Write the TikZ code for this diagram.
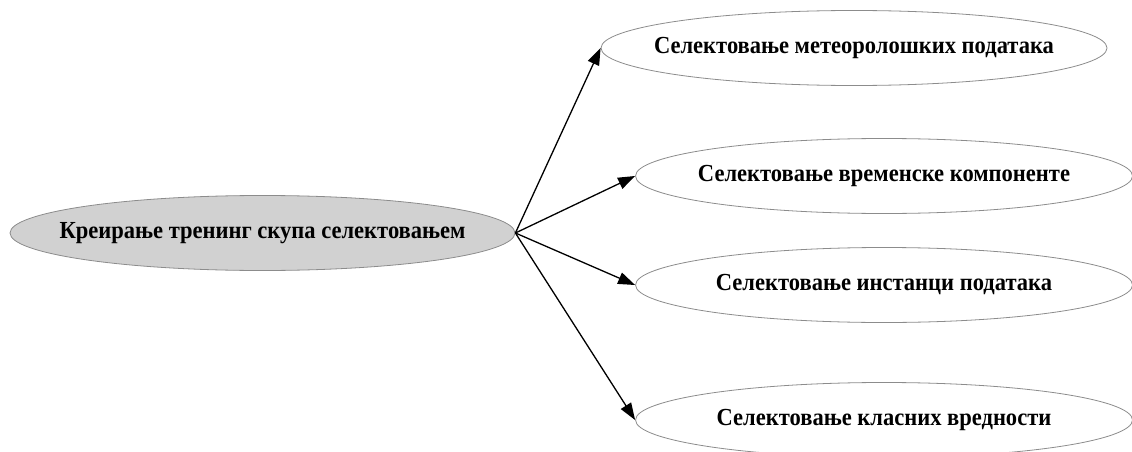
\documentclass[tikz,border=0pt]{standalone}
\usepackage{fontspec}
\usepackage{graphicx}
\setmainfont{Liberation Serif}
\usetikzlibrary{shapes.geometric,arrows.meta}
% centred, slightly condensed label that does not widen its ellipse
\newcommand{\ovaltext}[1]{\makebox[0pt][c]{\raisebox{-2pt}{\scalebox{0.92}[1]{#1}}}}
\begin{document}
\begin{tikzpicture}[x=1pt,y=-1pt,
  oval/.style={ellipse, draw=black!45, line width=0.8pt, inner sep=0pt,
    minimum height=75pt, font=\bfseries\fontsize{24.5}{28}\selectfont},
  root/.style={oval, fill=black!18, minimum width=505pt},
  leaf/.style={oval, fill=white, minimum width=497pt},
  link/.style={draw=black, line width=1.3pt, -{Triangle[length=17pt,width=12pt]}}]
  \useasboundingbox (0,0) rectangle (1132,452);
  \node[root] (src) at (262.5,233) {\ovaltext{Креирање тренинг скупа селектовањем}};
  \node[leaf, minimum width=506pt] (m) at (854,48) {\ovaltext{Селектовање метеоролошких података}};
  \node[leaf] (t) at (884,176) {\ovaltext{Селектовање временске компоненте}};
  \node[leaf] (i) at (884,285) {\ovaltext{Селектовање инстанци података}};
  \node[leaf] (k) at (884,420) {\ovaltext{Селектовање класних вредности}};
  \foreach \n in {m,t,i,k}
    \draw[link] (src.east) -- (\n.west);
\end{tikzpicture}
\end{document}
